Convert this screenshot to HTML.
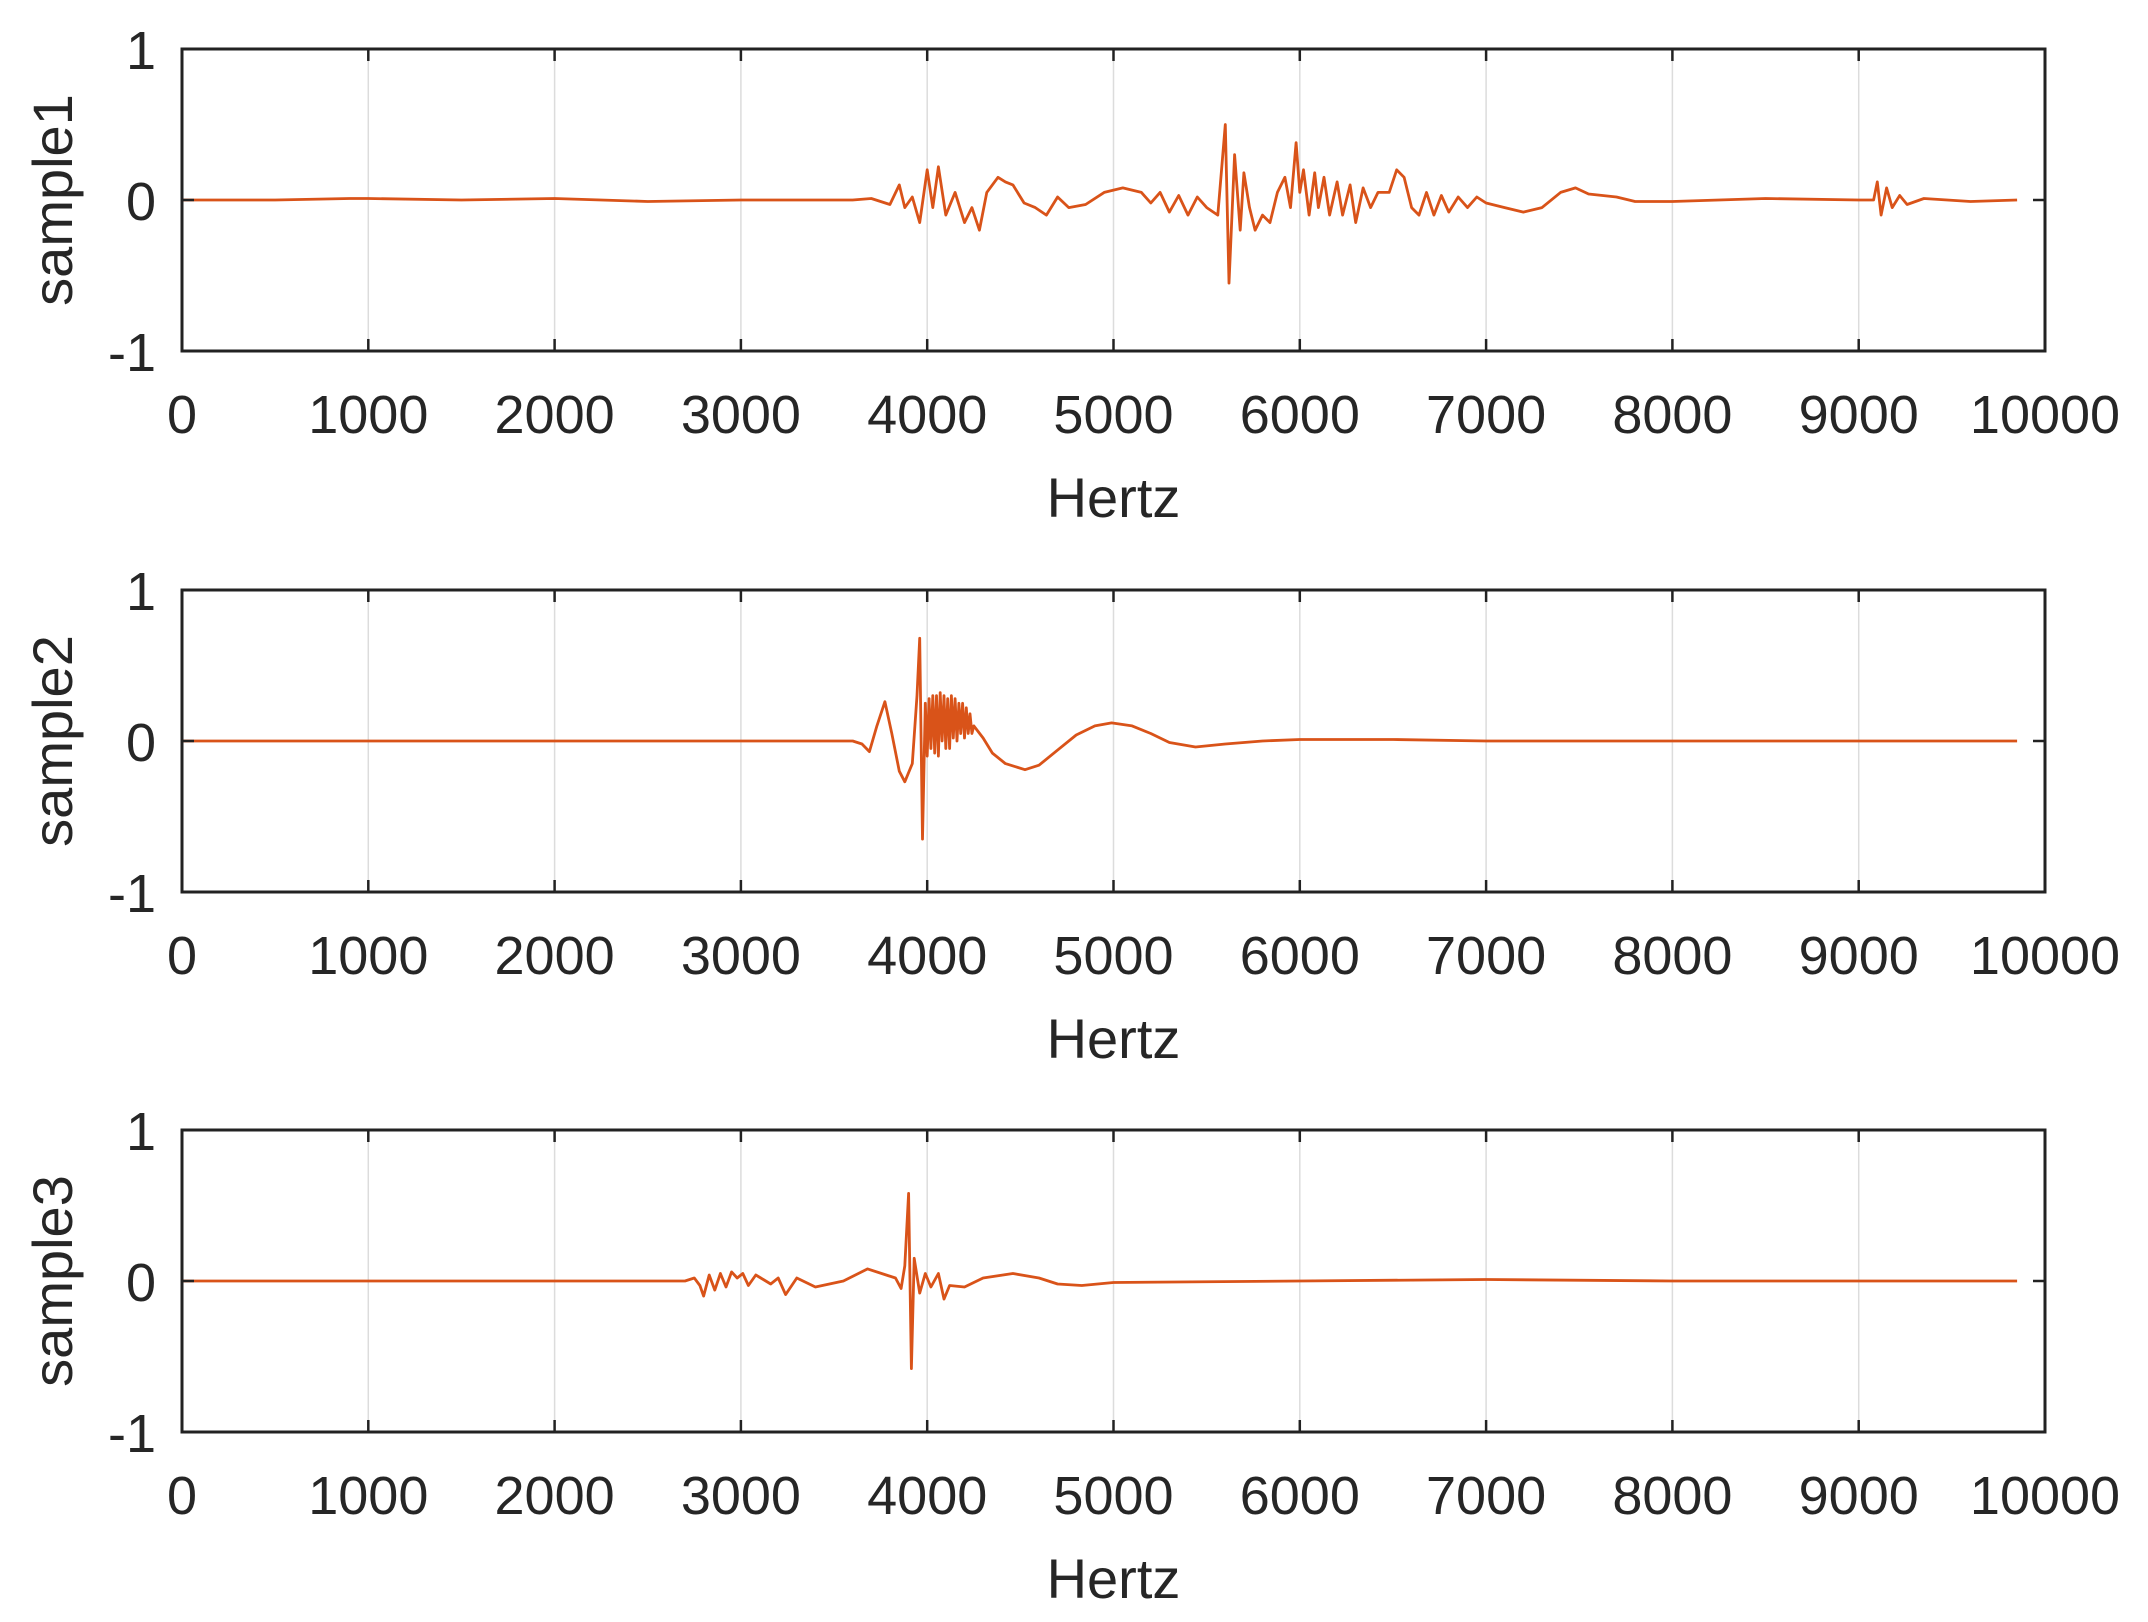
<!DOCTYPE html>
<html><head><meta charset="utf-8">
<style>
html,body{margin:0;padding:0;background:#fff;}
svg{display:block;font-family:"Liberation Sans",Arial,sans-serif;}
</style></head>
<body>
<svg id="fig" width="2148" height="1622" viewBox="0 0 2148 1622" xmlns="http://www.w3.org/2000/svg"></svg>
<script>
const xTicks = [0,1000,2000,3000,4000,5000,6000,7000,8000,9000,10000];
const yTicks = [-1,0,1];
const panelNames = ["sample1","sample2","sample3"];
const s1Hz = [0,500,900,1000,1500,2000,2500,3000,3500,3600,3700,3800,3850,3880,3920,3960,4000,4030,4060,4100,4150,4200,4240,4280,4320,4380,4420,4460,4520,4580,4640,4700,4760,4850,4950,5050,5150,5200,5250,5300,5350,5400,5450,5500,5560,5600,5620,5650,5680,5700,5730,5760,5800,5840,5880,5920,5950,5980,6000,6020,6050,6080,6100,6130,6160,6200,6230,6270,6300,6340,6380,6420,6480,6520,6560,6600,6640,6680,6720,6760,6800,6850,6900,6950,7000,7100,7200,7300,7400,7480,7550,7700,7800,8000,8500,9000,9080,9100,9120,9150,9180,9220,9260,9350,9600,9850];
const s1Val = [0,0,0.01,0.01,0,0.01,-0.01,0,0,0,0.01,-0.03,0.1,-0.05,0.02,-0.15,0.2,-0.05,0.22,-0.1,0.05,-0.15,-0.05,-0.2,0.05,0.15,0.12,0.1,-0.02,-0.05,-0.1,0.02,-0.05,-0.03,0.05,0.08,0.05,-0.02,0.05,-0.08,0.03,-0.1,0.02,-0.05,-0.1,0.5,-0.55,0.3,-0.2,0.18,-0.05,-0.2,-0.1,-0.15,0.05,0.15,-0.05,0.38,0.05,0.2,-0.1,0.18,-0.05,0.15,-0.1,0.12,-0.1,0.1,-0.15,0.08,-0.05,0.05,0.05,0.2,0.15,-0.05,-0.1,0.05,-0.1,0.03,-0.08,0.02,-0.05,0.02,-0.02,-0.05,-0.08,-0.05,0.05,0.08,0.04,0.02,-0.01,-0.01,0.01,0,0,0.12,-0.1,0.08,-0.05,0.03,-0.03,0.01,-0.01,0];
const s2Hz = [0,1000,2000,3000,3600,3650,3690,3730,3773,3810,3850,3880,3920,3945,3960,3975,3990,4000,4010,4020,4030,4040,4050,4060,4070,4080,4090,4100,4110,4120,4130,4140,4150,4160,4170,4180,4190,4200,4210,4220,4230,4240,4250,4300,4350,4420,4525,4600,4700,4800,4900,4990,5100,5200,5300,5440,5600,5800,6000,6500,7000,8000,9000,9850];
const s2Val = [0,0,0,0,0,-0.02,-0.07,0.1,0.26,0.05,-0.2,-0.27,-0.15,0.3,0.68,-0.65,0.25,-0.1,0.28,-0.05,0.3,-0.08,0.3,-0.1,0.32,0.0,0.3,-0.05,0.28,-0.05,0.3,0.02,0.28,0.0,0.25,0.05,0.25,0.02,0.22,0.05,0.18,0.05,0.1,0.02,-0.08,-0.15,-0.19,-0.16,-0.06,0.04,0.1,0.12,0.1,0.05,-0.01,-0.04,-0.02,0.0,0.01,0.01,0,0,0,0];
const s3Hz = [0,1000,2000,2700,2750,2780,2800,2830,2860,2890,2920,2950,2980,3010,3040,3080,3120,3160,3200,3240,3300,3400,3550,3680,3780,3830,3860,3880,3900,3915,3930,3960,3990,4020,4060,4090,4120,4200,4300,4460,4600,4700,4830,5000,6000,7000,8000,9000,9850];
const s3Val = [0,0,0,0,0.02,-0.03,-0.1,0.04,-0.06,0.05,-0.04,0.06,0.02,0.05,-0.03,0.04,0.01,-0.02,0.02,-0.09,0.02,-0.04,0.0,0.08,0.04,0.02,-0.05,0.1,0.58,-0.58,0.15,-0.08,0.05,-0.04,0.05,-0.12,-0.03,-0.04,0.02,0.05,0.02,-0.02,-0.03,-0.01,0,0.01,0,0,0];
const seriesHz = [s1Hz,s2Hz,s3Hz];
const seriesVal = [s1Val,s2Val,s3Val];

const NS = "http://www.w3.org/2000/svg";
const svg = document.getElementById("fig");
const L = 182, R = 2045, H = 302;
const tops = [49, 590, 1130];
function xs(v){ return L + (v-0)/(10000-0)*(R-L); }
function mk(tag, attrs, parent){
  const e = document.createElementNS(NS, tag);
  for (const k in attrs) e.setAttribute(k, attrs[k]);
  (parent||svg).appendChild(e); return e;
}
panelNames.forEach((name, p) => {
  const T = tops[p], B = T + H;
  const ys = v => T + (1 - v)/2 * H;
  const g = mk("g", {});
  
  
  xTicks.forEach(t => {
    const gl = mk("line", {x1:xs(t),x2:xs(t),y1:T,y2:B,stroke:"#dcdcdc","stroke-width":1.5}, g);
    
    
  });
  const hz = seriesHz[p], vals = seriesVal[p];
  let d = "";
  hz.forEach((h,i) => { d += (i?"L":"M") + xs(h).toFixed(1) + "," + ys(vals[i]).toFixed(1); });
  const path = mk("path", {d:d, fill:"none", stroke:"#D95319","stroke-width":2.8,"stroke-linejoin":"round"}, g);
  
  
  const box = mk("rect", {x:L,y:T,width:R-L,height:H,fill:"none",stroke:"#222","stroke-width":3}, g);
  
  
  xTicks.forEach(t => {
    mk("line",{x1:xs(t),x2:xs(t),y1:T,y2:T+12,stroke:"#222","stroke-width":2.5},g);
    mk("line",{x1:xs(t),x2:xs(t),y1:B,y2:B-12,stroke:"#222","stroke-width":2.5},g);
    const tl = mk("text",{x:xs(t),y:B+82,"font-size":54,"text-anchor":"middle",fill:"#262626"},g);
    tl.textContent = t;
    
    
  });
  yTicks.forEach(t => {
    mk("line",{x1:L,x2:L+12,y1:ys(t),y2:ys(t),stroke:"#222","stroke-width":2.5},g);
    mk("line",{x1:R,x2:R-12,y1:ys(t),y2:ys(t),stroke:"#222","stroke-width":2.5},g);
    const yl = mk("text",{x:156,y:ys(t)+20,"font-size":54,"text-anchor":"end",fill:"#262626"},g);
    yl.textContent = t;
    
    
  });
  const xt = mk("text",{x:(L+R)/2,y:B+166,"font-size":56,"text-anchor":"middle",fill:"#262626"},g);
  xt.textContent = "Hertz";
  
  
  const cy = (T+B)/2;
  const yt = mk("text",{x:0,y:0,"font-size":56,"text-anchor":"middle",fill:"#262626",transform:"translate(72,"+cy+") rotate(-90)"},g);
  yt.textContent = name;
  
  
});
</script>
</body></html>
